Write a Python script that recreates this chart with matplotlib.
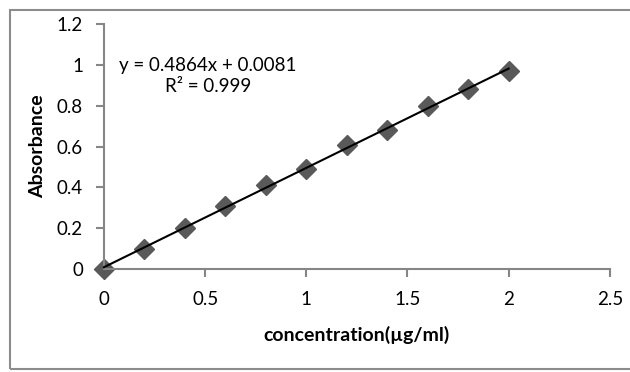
import numpy as np
import matplotlib.pyplot as plt
from matplotlib.patches import Rectangle

plt.rcParams['font.family'] = ['Lato', 'DejaVu Sans']

# data
concentration = [0, 0.2, 0.4, 0.6, 0.8, 1.0, 1.2, 1.4, 1.6, 1.8, 2.0]
absorbance = [0, 0.10, 0.20, 0.31, 0.41, 0.49, 0.61, 0.68, 0.80, 0.88, 0.97]
x_ticks = [0, 0.5, 1, 1.5, 2, 2.5]
x_tick_labels = ["0", "0.5", "1", "1.5", "2", "2.5"]
y_ticks = [0, 0.2, 0.4, 0.6, 0.8, 1.0, 1.2]
y_tick_labels = ["0", "0.2", "0.4", "0.6", "0.8", "1", "1.2"]
eq_text = "y = 0.4864x + 0.0081\nR\u00b2 = 0.999"

fig = plt.figure(figsize=(6.3, 3.72), dpi=100)
ax = fig.add_axes([0.165, 0.277, 0.803, 0.658])

# outer chart frame
fig.patches.append(Rectangle((10 / 630, 3 / 372), 1.0, 359 / 372, transform=fig.transFigure,
                             fill=False, edgecolor="#8c8c8c", linewidth=1.5, clip_on=False))

ax.plot(concentration, absorbance, linestyle="None", marker="D", markersize=10,
        color="#595959", zorder=2, clip_on=False)

# linear trendline
coef = np.polyfit(concentration, absorbance, 1)
xs = np.array([concentration[0], concentration[-1]])
ax.plot(xs, coef[0] * xs + coef[1], color="black", linewidth=1.5, zorder=3, clip_on=False)

ax.text(0.515, 0.945, eq_text, ha="center", va="center", multialignment="center",
        fontsize=13.5, linespacing=1.25)

ax.set_xlim(0, 2.5)
ax.set_ylim(0, 1.2)
ax.set_xticks(x_ticks)
ax.set_xticklabels(x_tick_labels)
ax.set_yticks(y_ticks)
ax.set_yticklabels(y_tick_labels)
ax.set_xlabel("concentration(\u00b5g/ml)", fontsize=14, fontweight="bold", labelpad=13)
ax.set_ylabel("Absorbance", fontsize=14, fontweight="bold", labelpad=8)

for s in ["top", "right"]:
    ax.spines[s].set_visible(False)
for s in ["left", "bottom"]:
    ax.spines[s].set_color("#868686")
    ax.spines[s].set_linewidth(1.5)
ax.tick_params(axis="both", colors="#868686", width=1.5, length=6, labelsize=13.5,
               labelcolor="black")
ax.tick_params(axis="x", pad=10)
ax.tick_params(axis="y", pad=9)

fig.savefig("out.png", dpi=100)
